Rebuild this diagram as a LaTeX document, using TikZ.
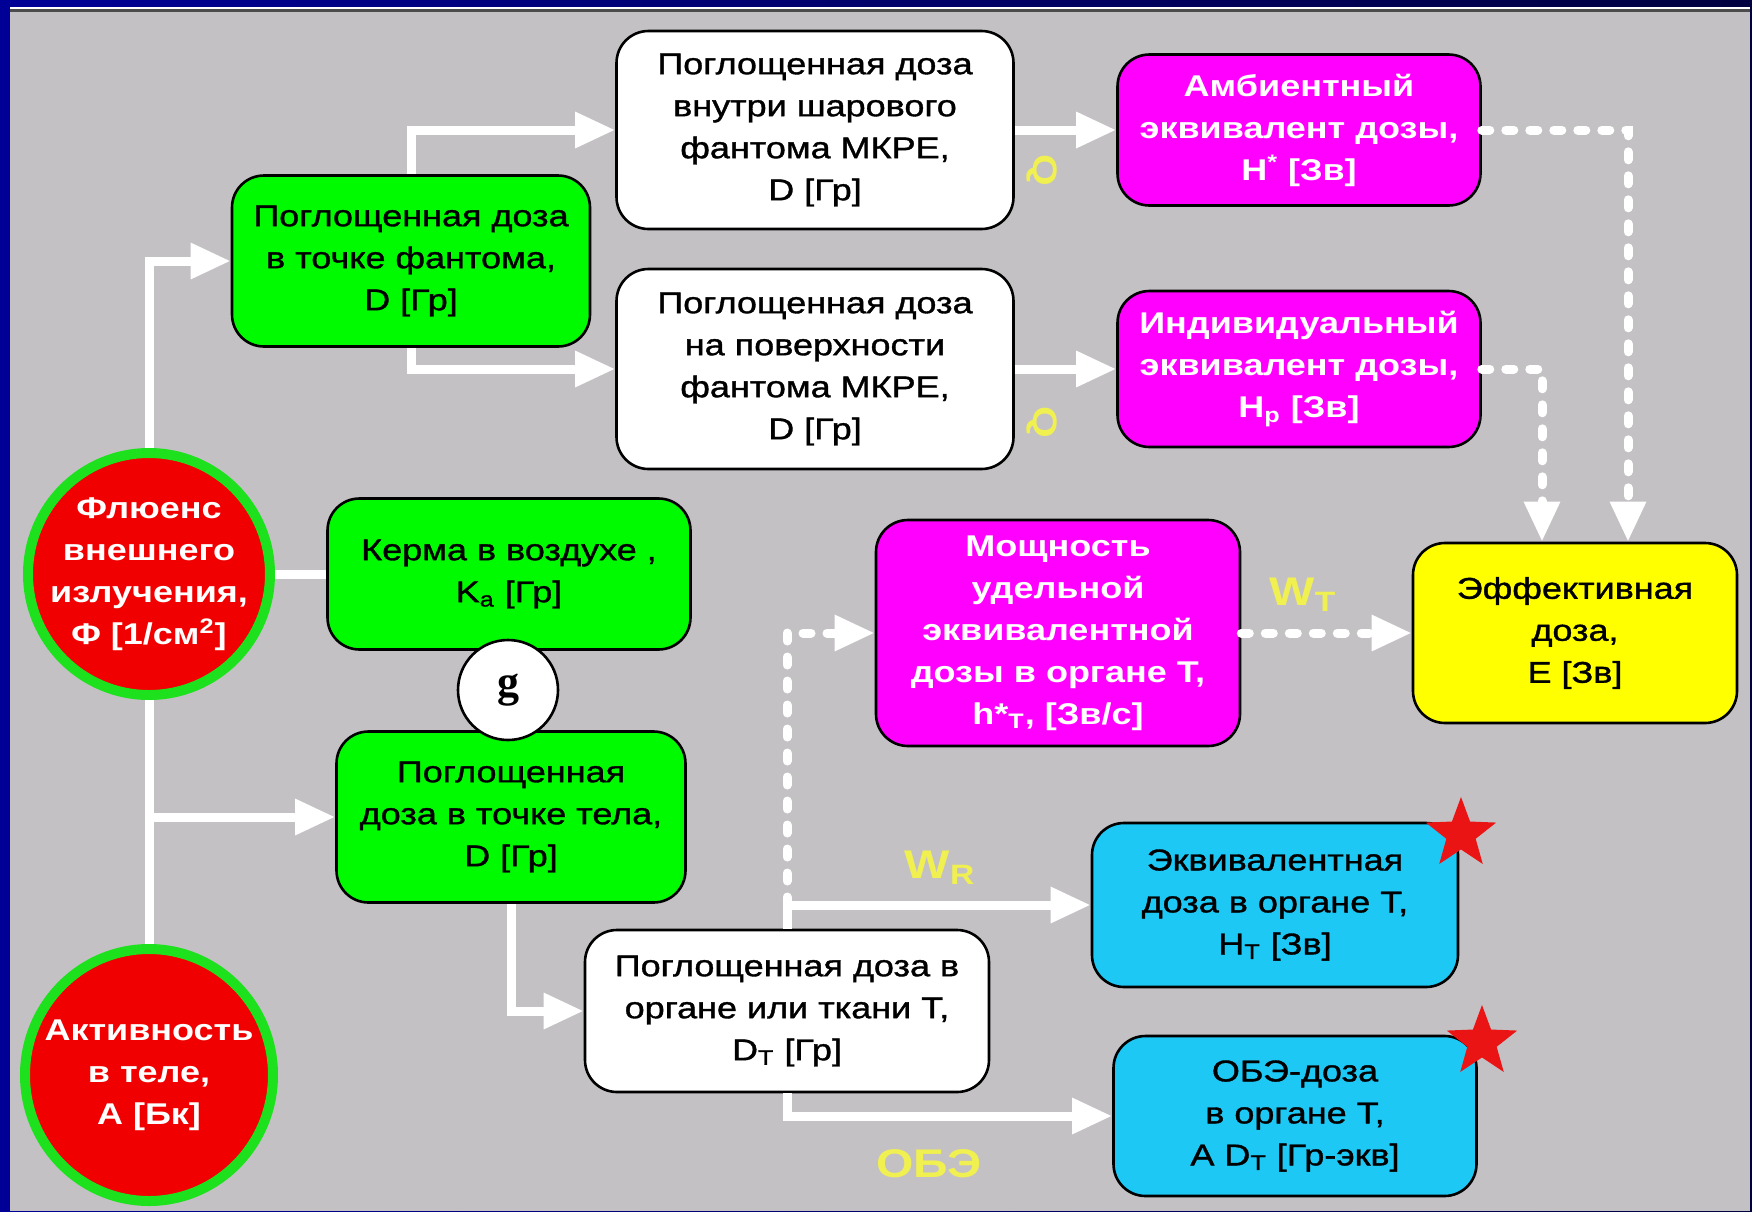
\documentclass[tikz,border=0pt]{standalone}
\usepackage{fontspec}
\setmainfont{Liberation Sans}[FakeStretch=1.2]
\newfontfamily\medfont{Liberation Sans}[FakeStretch=1.2, FakeBold=1.2]
\newfontfamily\gfont{Liberation Serif}
\usetikzlibrary{positioning, arrows.meta, shapes.geometric}
\definecolor{bggray}{RGB}{196,193,196}
\definecolor{navyL}{RGB}{0,0,150}
\definecolor{navyR}{RGB}{0,0,64}
\definecolor{boxgreen}{RGB}{0,250,0}
\definecolor{ringgreen}{RGB}{30,225,30}
\definecolor{srcred}{RGB}{240,0,0}
\definecolor{boxmag}{RGB}{255,0,255}
\definecolor{boxyellow}{RGB}{255,255,0}
\definecolor{boxcyan}{RGB}{30,200,245}
\definecolor{lblyellow}{RGB}{240,240,80}
\definecolor{starred}{RGB}{235,20,20}
\tikzset{
    >={Triangle[length=20pt, width=17pt]},
    box/.style={draw=black, line width=1.3pt, rounded corners=16pt, align=center,
        inner sep=2pt, font=\medfont\fontsize{15}{21}\selectfont},
    whitebox/.style={box, fill=white},
    greenbox/.style={box, fill=boxgreen},
    magbox/.style={box, fill=boxmag, text=white, font=\fontsize{15}{21}\selectfont\bfseries},
    yellowbox/.style={box, fill=boxyellow},
    cyanbox/.style={box, fill=boxcyan},
    src/.style={ellipse, draw=ringgreen, line width=5pt, fill=srcred, text=white,
        align=center, inner sep=-9pt, font=\fontsize{15}{21}\selectfont\bfseries},
    wire/.style={draw=white, line width=4.5pt},
    flow/.style={wire, ->},
    dflow/.style={flow, line cap=round, dash pattern=on 4pt off 8pt},
    lbl/.style={text=lblyellow, font=\fontsize{20}{20}\selectfont\bfseries},
    redstar/.style={star, star points=5, star point ratio=2.4, fill=starred,
        minimum size=37pt, inner sep=0pt},
    gcirc/.style={circle, draw=black, line width=1.3pt, fill=white, minimum size=50pt,
        inner sep=0pt, font=\gfont\bfseries\fontsize{22}{22}\selectfont},
}

\begin{document}
\begin{tikzpicture}[x=0.5pt, y=-0.5pt]
\useasboundingbox (0,0) rectangle (1752,1211);

% frame of the slide
\shade[left color=navyL, right color=navyR] (0,0) rectangle (1752,1211);
\fill[bggray] (10,12) rectangle (1750,1211);
\fill[white] (10,7) rectangle (1750,9);
\fill[black!70] (10,9) rectangle (1750,12);

% sources
\node[src, minimum width=121pt, minimum height=121pt] (flu) at (149,574)
    {Флюенс\\внешнего\\излучения,\\Φ [1/см\textsuperscript{2}]};
\node[src, minimum width=124pt, minimum height=126pt] (act) at (149,1075)
    {Активность\\в теле,\\А [Бк]};

% phantom branch
\node[greenbox, minimum width=179pt, minimum height=85.5pt] (dph) at (411,261)
    {Поглощенная доза\\в точке фантома,\\D [Гр]};
\node[whitebox, minimum width=198.5pt, minimum height=99pt] (dsph) at (815,130)
    {Поглощенная доза\\внутри шарового\\фантома МКРЕ,\\D [Гр]};
\node[whitebox, minimum width=198.5pt, minimum height=100pt] (dsur) at (815,369)
    {Поглощенная доза\\на поверхности\\фантома МКРЕ,\\D [Гр]};
\node[magbox, minimum width=181.5pt, minimum height=75.5pt] (amb) at (1299,130)
    {Амбиентный\\эквивалент дозы,\\H\textsuperscript{*} [Зв]};
\node[magbox, minimum width=181.5pt, minimum height=78pt] (ind) at (1299,369)
    {Индивидуальный\\эквивалент дозы,\\H\textsubscript{p} [Зв]};

% body branch
\node[greenbox, minimum width=181.5pt, minimum height=75.5pt] (kerma) at (509,574)
    {Керма в воздухе ,\\K\textsubscript{a} [Гр]};
\node[greenbox, minimum width=174.5pt, minimum height=85.5pt] (dbody) at (511,817)
    {Поглощенная\\доза в точке тела,\\D [Гр]};
\node[gcirc] (g) at (508,690) {g};
\node[whitebox, minimum width=202pt, minimum height=81pt] (dorg) at (787,1011)
    {Поглощенная доза в\\органе или ткани Т,\\D\textsubscript{T} [Гр]};
\node[magbox, minimum width=182pt, minimum height=113pt] (rate) at (1058,633)
    {Мощность\\удельной\\эквивалентной\\дозы в органе Т,\\h*\textsubscript{T}, [Зв/с]};
\node[yellowbox, minimum width=162pt, minimum height=90pt] (eff) at (1575,633)
    {Эффективная\\доза,\\Е [Зв]};
\node[cyanbox, minimum width=183pt, minimum height=82pt] (equ) at (1275,905)
    {Эквивалентная\\доза в органе Т,\\H\textsubscript{T} [Зв]};
\node[cyanbox, minimum width=181.5pt, minimum height=80pt] (rbe) at (1295,1116)
    {ОБЭ-доза\\в органе Т,\\А D\textsubscript{T} [Гр-экв]};
\node[redstar] (star1) at (1461,834) {};
\node[redstar] (star2) at (1482,1042) {};

% factors
\node[lbl, rotate=-90, font=\fontsize{17}{17}\selectfont\bfseries] (q1) at (1042,170) {Q};
\node[lbl, rotate=-90, font=\fontsize{17}{17}\selectfont\bfseries] (q2) at (1042,422) {Q};
\node[lbl] (wt) at (1303,595) {W\textsubscript{T}};
\node[lbl] (wr) at (940,868) {W\textsubscript{R}};
\node[lbl] (obe) at (929,1164) {ОБЭ};

% connectors
\draw[flow] (flu.north) |- (dph);
\draw[wire] (flu) -- (kerma);
\draw[wire] (flu) -- (act);
\draw[flow] (flu.south |- dbody) -- (dbody);
\draw[flow] (dph.north) |- (dsph);
\draw[flow] (dph.south) |- (dsur);
\draw[flow] (dsph) -- (amb);
\draw[flow] (dsur) -- (ind);
\draw[dflow] (amb.east) -| ([xshift=26.5pt]eff.north);
\draw[dflow] (ind.east) -| ([xshift=-16.5pt]eff.north);
\draw[flow] (dbody.south) |- (dorg);
\draw[flow] (dorg.north) |- (equ);
\draw[dflow] (dorg.north |- equ) |- (rate);
\draw[dflow] (rate) -- (eff);
\draw[flow] (dorg.south) |- (rbe);

\end{tikzpicture}
\end{document}
